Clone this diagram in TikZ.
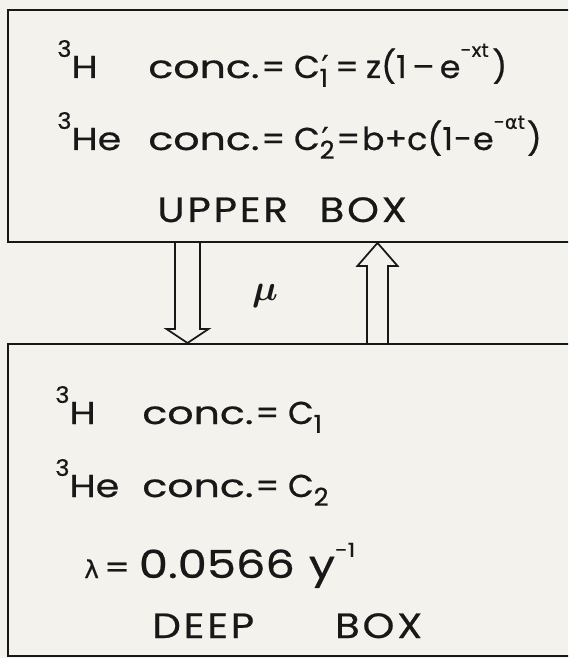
\documentclass[tikz,border=0pt]{standalone}
\usepackage{fontspec}
\setmainfont{Poppins}[FakeStretch=1.05,FakeBold=0.6]
\newfontfamily\greekfont{DejaVu Sans}[FakeBold=0.6]
\usetikzlibrary{calc}
\definecolor{paper}{RGB}{244,242,236}
\definecolor{ink}{RGB}{24,24,24}
\newcommand{\lettering}{\fontsize{18}{22}\selectfont}
\newcommand{\boxname}{\fontsize{20}{24}\selectfont\addfontfeatures{FakeStretch=1.15,LetterSpace=8}}
\newcommand{\iso}[2]{\raisebox{12pt}{\fontsize{13}{13}\selectfont #1}{\addfontfeatures{FakeStretch=1.2}#2}}
\newcommand{\conc}{{\addfontfeatures{FakeStretch=1.3}conc.}\kern1pt=\kern5pt}
\newcommand{\hi}[1]{\raisebox{12pt}{\fontsize{11}{11}\selectfont #1}}
\newcommand{\lo}[1]{\raisebox{-5pt}{\fontsize{14}{14}\selectfont #1}}
\newcommand{\prm}{\rlap{\kern1pt{\greekfont ′}}}

\begin{document}
\begin{tikzpicture}[
  x=0.02cm,y=-0.02cm,
  reservoir/.style={draw=ink,line width=1.1pt,rectangle,anchor=north west,
    inner sep=0pt,minimum width=13cm},
  txt/.style={anchor=base west,inner sep=0pt,text=ink,font=\lettering},
  hollow/.style={draw=ink,line width=1pt,line join=miter}
]
\useasboundingbox (0,0) rectangle (568,658);
\fill[paper] (0,0) rectangle (568,658);
\clip (0,0) rectangle (568,658);

% the two reservoirs
\node[reservoir,minimum height=4.64cm] (upper) at (7,9) {};
\node[reservoir,minimum height=6.24cm] (deep) at (7,343) {};

% upper box
\node[txt] (uH) at (57,78) {\iso{3}{H}};
\node[txt] (uHconc) at (148,78) {\conc C\prm\lo{1}\kern4pt=\kern4pt z(1\kern3pt–\kern3pt e\hi{-xt}\kern2pt)};
\node[txt] (uHe) at (57,150) {\iso{3}{He}};
\node[txt] (uHeconc) at (148,150) {\conc C\prm\lo{2}\kern1pt=\kern1pt b+c(1\kern0.5pt-\kern0.5pt e\hi{-{\greekfont α}t}\kern1pt)};
\node[txt,font=\boxname] (ulabel) at (157,222) {UPPER\hspace{0.9em}BOX};

% deep box
\node[txt] (dH) at (55,424) {\iso{3}{H}};
\node[txt] (dHconc) at (142,424) {\conc C\lo{1}};
\node[txt] (dHe) at (55,497) {\iso{3}{He}};
\node[txt] (dHeconc) at (142,497) {\conc C\lo{2}};
\node[txt,font=\fontsize{22}{26}\selectfont\addfontfeatures{FakeStretch=1.2}] (decay) at (84,578)
  {{\greekfont\fontsize{14}{14}\selectfont λ}\kern3pt{\fontsize{17}{17}\selectfont=}\kern5pt 0.0566\kern8pt y\hi{-1}};
\node[txt,font=\boxname] (dlabel) at (152,638) {DEEP\hspace{2.3em}BOX};

% exchange between the boxes
\path (upper.south west) ++(180.5,0) coordinate (dtop);
\path (deep.north west) ++(180.5,0) coordinate (dbot);
\path (deep.north west) ++(370.5,0) coordinate (ubot);
\path (upper.south west) ++(370.5,0) coordinate (utop);
\draw[hollow] ($(dtop)+(-12.5,0)$) -- ($(dbot)+(-12.5,-14)$) -- ($(dbot)+(-21,-14)$)
  -- (dbot) -- ($(dbot)+(21,-14)$) -- ($(dbot)+(12.5,-14)$) -- ($(dtop)+(12.5,0)$);
\draw[hollow] ($(ubot)+(-10.5,0)$) -- ($(utop)+(-10.5,23)$) -- ($(utop)+(-20,23)$)
  -- (utop) -- ($(utop)+(20,23)$) -- ($(utop)+(10.5,23)$) -- ($(ubot)+(10.5,0)$);
\node[text=ink,font=\fontsize{21}{21}\selectfont\boldmath] (mu) at (265,296) {$\mu$};
\end{tikzpicture}
\end{document}
